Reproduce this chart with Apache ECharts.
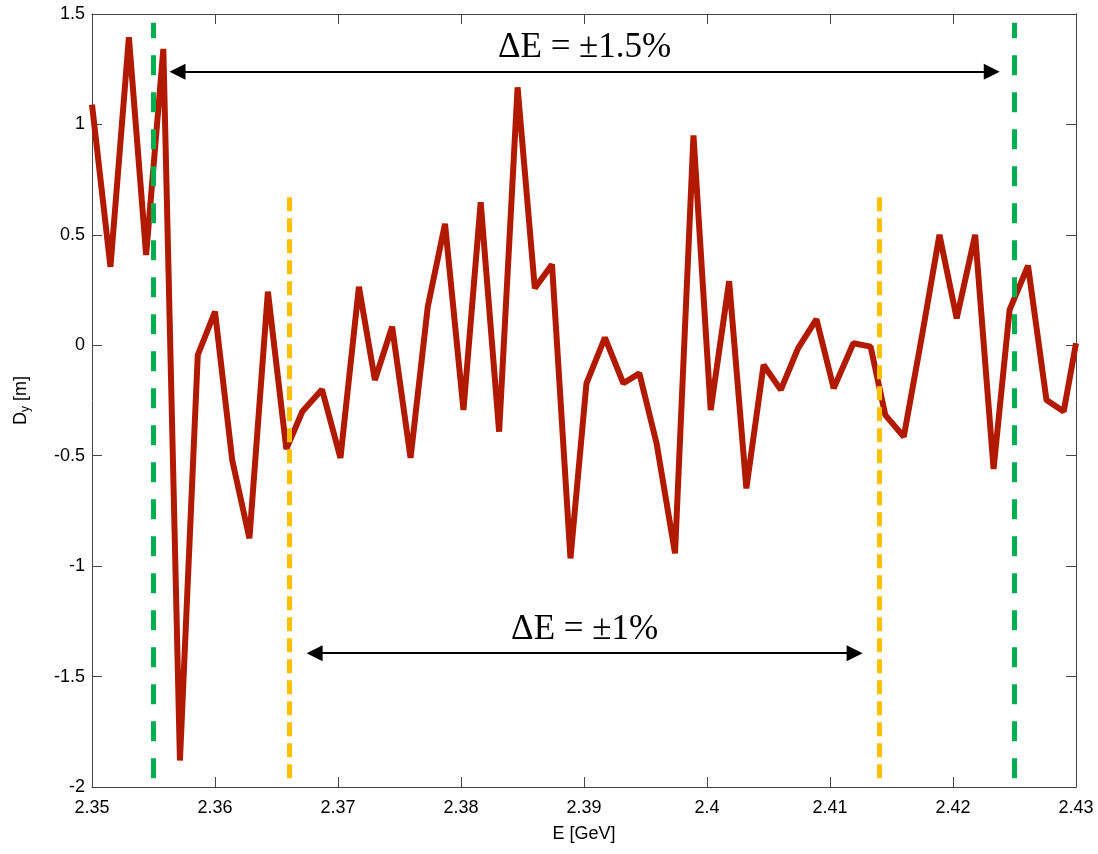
<!DOCTYPE html>
<html>
<head>
<meta charset="utf-8">
<script src="https://cdn.jsdelivr.net/npm/echarts@6/dist/echarts.min.js"></script>
<style>
html,body{margin:0;padding:0;background:#fff;}
#chart{width:1098px;height:854px;}
</style>
</head>
<body>
<div id="chart"></div>
<script>
// Energy [GeV]
var energy = [2.35, 2.3515, 2.353, 2.3544, 2.3558, 2.35715, 2.3586, 2.360, 2.3614, 2.3628,
  2.3643, 2.3658, 2.3671, 2.3687, 2.3702, 2.3717, 2.373, 2.3744, 2.3759, 2.3773,
  2.3787, 2.3802, 2.3816, 2.3831, 2.3846, 2.386, 2.3874, 2.3889, 2.3902, 2.3917,
  2.3932, 2.3945, 2.3959, 2.3974, 2.3989, 2.4003, 2.4018, 2.4032, 2.4046, 2.406,
  2.4074, 2.4089, 2.4103, 2.4119, 2.4133, 2.4145, 2.416, 2.4175, 2.4189, 2.4203,
  2.4218, 2.4233, 2.4246, 2.4261, 2.4276, 2.429, 2.43];
// Vertical dispersion D_y [m]
var dy = [1.09, 0.355, 1.395, 0.409, 1.342, -1.88, -0.044, 0.152, -0.52, -0.874,
  0.243, -0.47, -0.30, -0.20, -0.51, 0.265, -0.157, 0.084, -0.51, 0.175,
  0.55, -0.293, 0.648, -0.391, 1.168, 0.258, 0.366, -0.965, -0.172, 0.035,
  -0.172, -0.127, -0.444, -0.942, 0.95, -0.293, 0.29, -0.648, -0.089, -0.202,
  -0.014, 0.118, -0.195, 0.009, -0.006, -0.316, -0.414, 0.05, 0.5, 0.122,
  0.5, -0.56, 0.16, 0.36, -0.248, -0.30, 0.009];
// Energy-acceptance markers
var greenLinesE = [2.355, 2.425];
var yellowLinesE = [2.366, 2.414];
var greenRange = [-1.96, 1.46];
var yellowRange = [-1.96, 0.70];
// Arrows: [startE, endE, Dy level, label]
var arrowWide = [2.35695, 2.42315, 1.239, 'ΔE = ±1.5%'];
var arrowNarrow = [2.3681, 2.4120, -1.394, 'ΔE = ±1%'];
// Axis ticks
var xTicks = [2.35, 2.36, 2.37, 2.38, 2.39, 2.4, 2.41, 2.42, 2.43];
var yTicks = [-2, -1.5, -1, -0.5, 0, 0.5, 1, 1.5];

var points = energy.map(function (e, i) { return [e, dy[i]]; });

function vline(e, range, style) {
  return [{ coord: [e, range[0]], lineStyle: style }, { coord: [e, range[1]], lineStyle: style }];
}

var labelFont = 'Liberation Sans';
var chart = echarts.init(document.getElementById('chart'));
var axisLineStyle = { color: '#444', width: 1 };
var greenStyle = { color: '#00B050', width: 5, type: [20, 17] };
var yellowStyle = { color: '#FFC000', width: 5, type: [14, 7] };

chart.setOption({
  animation: false,
  backgroundColor: '#fff',
  grid: { left: 92, right: 22, top: 14, bottom: 67, show: false },
  xAxis: [{
    type: 'value', min: xTicks[0], max: xTicks[xTicks.length - 1], interval: 0.01,
    position: 'bottom',
    name: 'E [GeV]', nameLocation: 'middle', nameGap: 38,
    nameTextStyle: { fontFamily: labelFont, fontSize: 18, color: '#000' },
    axisLine: { show: true, onZero: false, lineStyle: axisLineStyle },
    axisTick: { show: true, inside: true, length: 10, lineStyle: axisLineStyle },
    axisLabel: { fontFamily: labelFont, fontSize: 18, color: '#000', margin: 12,
      formatter: function (v) { return String(+v.toFixed(2)); } },
    splitLine: { show: false }
  }, {
    type: 'value', min: xTicks[0], max: xTicks[xTicks.length - 1], interval: 0.01,
    position: 'top',
    axisLine: { show: true, onZero: false, lineStyle: axisLineStyle },
    axisTick: { show: true, inside: true, length: 10, lineStyle: axisLineStyle },
    axisLabel: { show: false }, splitLine: { show: false }
  }],
  yAxis: [{
    type: 'value', min: yTicks[0], max: yTicks[yTicks.length - 1], interval: 0.5,
    position: 'left',
    name: '{d|D}{s|y}{d| [m]}', nameLocation: 'middle', nameGap: 60,
    nameTextStyle: { color: '#000', rich: {
      d: { fontFamily: labelFont, fontSize: 18, color: '#000' },
      s: { fontFamily: labelFont, fontSize: 12, color: '#000', padding: [10, 0, 0, 0] }
    } },
    axisLine: { show: true, onZero: false, lineStyle: axisLineStyle },
    axisTick: { show: true, inside: true, length: 10, lineStyle: axisLineStyle },
    axisLabel: { fontFamily: labelFont, fontSize: 18, color: '#000', margin: 7 },
    splitLine: { show: false }
  }, {
    type: 'value', min: yTicks[0], max: yTicks[yTicks.length - 1], interval: 0.5,
    position: 'right',
    axisLine: { show: true, onZero: false, lineStyle: axisLineStyle },
    axisTick: { show: true, inside: true, length: 10, lineStyle: axisLineStyle },
    axisLabel: { show: false }, splitLine: { show: false }
  }],
  series: [{
    type: 'line',
    data: points,
    showSymbol: false,
    symbol: 'none',
    lineStyle: { color: '#B21A00', width: 6, join: 'bevel' },
    z: 2,
    markLine: {
      silent: true,
      animation: false,
      z: 5,
      symbol: ['none', 'none'],
      label: { show: false },
      data: [
        vline(greenLinesE[0], greenRange, greenStyle),
        vline(greenLinesE[1], greenRange, greenStyle),
        vline(yellowLinesE[0], yellowRange, yellowStyle),
        vline(yellowLinesE[1], yellowRange, yellowStyle)
      ]
    }
  }, {
    type: 'line',
    data: [],
    z: 6,
    markLine: {
      silent: true,
      animation: false,
      symbol: ['triangle', 'triangle'],
      symbolSize: [16, 16],
      lineStyle: { color: '#000', width: 2, type: 'solid' },
      label: { show: true, position: 'middle', color: '#000',
        fontFamily: 'Liberation Serif', fontSize: 35, distance: 6 },
      data: [
        [{ coord: [arrowWide[0], arrowWide[2]], name: arrowWide[3] },
         { coord: [arrowWide[1], arrowWide[2]] }],
        [{ coord: [arrowNarrow[0], arrowNarrow[2]], name: arrowNarrow[3] },
         { coord: [arrowNarrow[1], arrowNarrow[2]] }]
      ].map(function (d) {
        d[0].label = { formatter: d[0].name };
        return d;
      })
    }
  }]
});
</script>
</body>
</html>
